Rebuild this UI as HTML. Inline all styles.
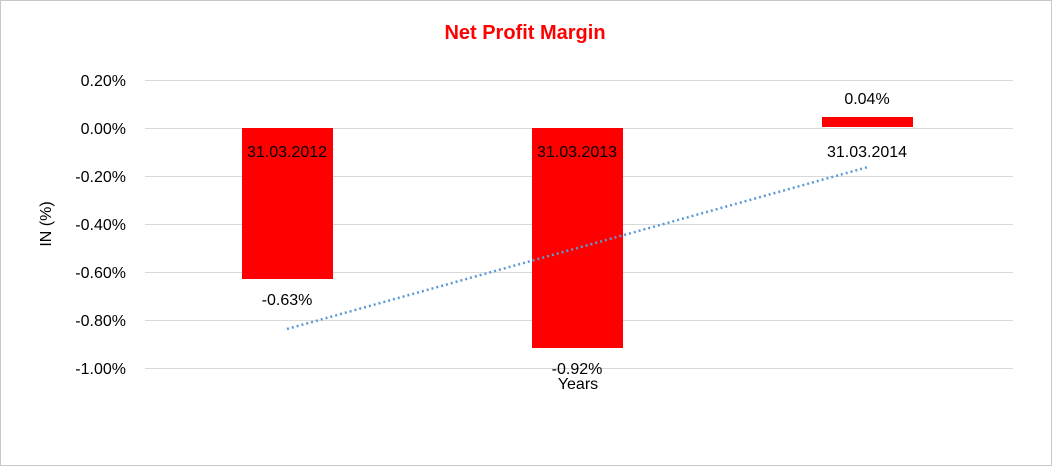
<!DOCTYPE html>
<html><head><style>
html,body{margin:0;padding:0;background:#fff;}
</style></head><body>
<svg width="1052" height="466" xmlns="http://www.w3.org/2000/svg" font-family="Liberation Sans, Arial, sans-serif">
<rect x="0.5" y="0.5" width="1051" height="465" fill="#fff" stroke="#c8c8c8"/>
<text x="525" y="39" text-anchor="middle" font-size="20" font-weight="bold" fill="#ff0000">Net Profit Margin</text>
<g stroke="#d9d9d9" stroke-width="1">
<line x1="145" x2="1013" y1="80.5" y2="80.5"/>
<line x1="145" x2="1013" y1="128.5" y2="128.5"/>
<line x1="145" x2="1013" y1="176.5" y2="176.5"/>
<line x1="145" x2="1013" y1="224.5" y2="224.5"/>
<line x1="145" x2="1013" y1="272.5" y2="272.5"/>
<line x1="145" x2="1013" y1="320.5" y2="320.5"/>
<line x1="145" x2="1013" y1="368.5" y2="368.5"/>
</g>
<g font-size="16" fill="#000" text-anchor="end">
<text x="126" y="86">0.20%</text>
<text x="126" y="134">0.00%</text>
<text x="126" y="182">-0.20%</text>
<text x="126" y="230">-0.40%</text>
<text x="126" y="278">-0.60%</text>
<text x="126" y="326">-0.80%</text>
<text x="126" y="374">-1.00%</text>
</g>
<text transform="translate(51,224) rotate(-90)" text-anchor="middle" font-size="16">IN (%)</text>
<rect x="242" y="128" width="91" height="151" fill="#ff0000"/>
<rect x="532" y="128" width="91" height="220" fill="#ff0000"/>
<rect x="822" y="117" width="91" height="10" fill="#ff0000"/>
<line x1="287" y1="329" x2="868" y2="167" stroke="#5b9bd5" stroke-width="2.5" stroke-dasharray="2,3"/>
<g font-size="16" fill="#000" text-anchor="middle">
<text x="287" y="157">31.03.2012</text>
<text x="577" y="157">31.03.2013</text>
<text x="867" y="157">31.03.2014</text>
<text x="287" y="305">-0.63%</text>
<text x="577" y="374">-0.92%</text>
<text x="867" y="104">0.04%</text>
<text x="578" y="389">Years</text>
</g>
</svg>
</body></html>
